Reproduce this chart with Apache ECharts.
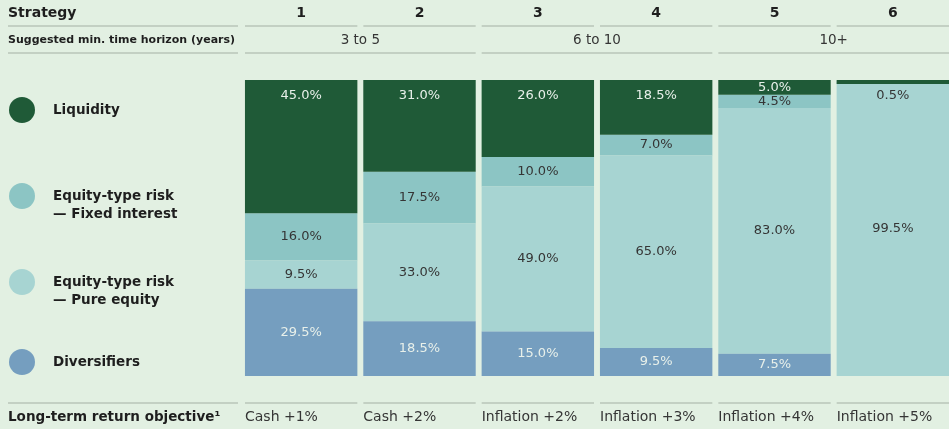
<!DOCTYPE html>
<html>
<head>
<meta charset="utf-8">
<script src="https://cdn.jsdelivr.net/npm/echarts@6/dist/echarts.min.js"></script>
<style>
  html, body { margin: 0; padding: 0; background: #e2f0e2; }
  #chart { width: 949px; height: 429px; }
</style>
</head>
<body>
<div id="chart"></div>
<script>
// strategy columns
const strategies = ['1', '2', '3', '4', '5', '6']
const horizons = ['3 to 5', '6 to 10', '10+']
const returnObjectives = ['Cash +1%', 'Cash +2%', 'Inflation +2%', 'Inflation +3%', 'Inflation +4%', 'Inflation +5%']

// allocation (%) per strategy
const liquidity = [45.0, 31.0, 26.0, 18.5, 5.0, 0.5]
const fixedInterest = [16.0, 17.5, 10.0, 7.0, 4.5, 0]
const pureEquity = [9.5, 33.0, 49.0, 65.0, 83.0, 99.5]
const diversifiers = [29.5, 18.5, 15.0, 9.5, 7.5, 0]

const legendNames = ['Liquidity', 'Equity-type risk\n— Fixed interest', 'Equity-type risk\n— Pure equity', 'Diversifiers']

const colors = {
  liquidity: '#1f5a37',
  fixed: '#8cc5c4',
  pure: '#a7d4d2',
  div: '#759ebf'
}
const lineColor = '#b9c6b9'
const textDark = '#1e1e1e'
const textReg = '#353535'
const textLight = '#e8f0ea'
const boldFont = '"DejaVu Sans"'
const regFont = '"DejaVu Sans"'

const chart = echarts.init(document.getElementById('chart'))

const pct = p => (p.value ? p.value.toFixed(1) + '%' : '')

function seriesFor(name, data, color, labelOpts, extra) {
  return Object.assign({
    name,
    type: 'bar',
    stack: 'total',
    barCategoryGap: '5%',
    data,
    itemStyle: { color },
    label: Object.assign({
      show: true,
      position: 'inside',
      formatter: pct,
      color: textReg,
      fontFamily: 'DejaVu Sans',
      fontSize: 13
    }, labelOpts)
  }, extra || {})
}

// liquidity labels sit near the top, except for the thin slices
const liquidityData = liquidity.map((v, i) => {
  if (i === 4) return { value: v, label: { position: 'inside' } }
  if (i === 5) return { value: v, label: { color: textReg } }
  return v
})

chart.setOption({
  backgroundColor: '#e2f0e2',
  animation: false,
  grid: { left: 242, width: 710, top: 80, bottom: 53, outerBoundsMode: 'none' },
  xAxis: {
    type: 'category',
    data: strategies,
    axisLine: { show: false },
    axisTick: { show: false },
    axisLabel: { show: false }
  },
  yAxis: {
    type: 'value',
    min: 0,
    max: 100,
    inverse: true,
    show: false,
    splitLine: { show: false }
  },
  series: [
    seriesFor('Liquidity', liquidityData, colors.liquidity,
      { position: 'insideTop', distance: 9, color: textLight },
      { barMinHeight: 4, z: 3 }),
    seriesFor('Equity-type risk — Fixed interest', fixedInterest, colors.fixed, {}),
    seriesFor('Equity-type risk — Pure equity', pureEquity, colors.pure, {}),
    seriesFor('Diversifiers', diversifiers, colors.div, { color: textLight })
  ]
})

// header, footer and legend drawn from the axis positions
const cx = strategies.map(s => chart.convertToPixel({ xAxisIndex: 0 }, s))
const band = cx[1] - cx[0]
const half = band / 2 - 3
const g = []

function hline(x1, x2, y) {
  g.push({ type: 'line', shape: { x1, y1: y, x2, y2: y }, style: { stroke: lineColor, lineWidth: 1.5 }, silent: true })
}
function text(str, x, y, opts) {
  g.push({
    type: 'text', x, y,
    style: Object.assign({ text: str, fill: textReg, font: '14px ' + regFont, textVerticalAlign: 'middle' }, opts)
  })
}

// row labels
text('Strategy', 8, 13, { fill: textDark, font: 'bold 14px ' + boldFont })
text('Suggested min. time horizon (years)', 8, 40, { fill: textDark, font: 'bold 11px ' + boldFont })
text('Long-term return objective\u00b9', 8, 417, { fill: textDark, font: 'bold 13.5px ' + boldFont })
hline(8, 238, 26)
hline(8, 238, 53)
hline(8, 238, 403)

strategies.forEach((s, i) => {
  text(s, cx[i], 13, { fill: textDark, font: 'bold 14px ' + boldFont, textAlign: 'center' })
  hline(cx[i] - half, cx[i] + half, 26)
  hline(cx[i] - half, cx[i] + half, 403)
  text(returnObjectives[i], cx[i] - half, 417, { textAlign: 'left' })
})

horizons.forEach((h, k) => {
  const a = cx[2 * k], b = cx[2 * k + 1]
  text(h, (a + b) / 2, 40, { textAlign: 'center', font: '13.5px ' + regFont })
  hline(a - half, b + half, 53)
})

// legend
const legendColors = [colors.liquidity, colors.fixed, colors.pure, colors.div]
const legendY = [110, 196, 282, 362]
legendNames.forEach((n, i) => {
  g.push({ type: 'circle', shape: { cx: 22, cy: legendY[i], r: 13 }, style: { fill: legendColors[i] } })
  g.push({
    type: 'text', x: 53, y: legendY[i] - 9,
    style: { text: n, fill: textDark, font: 'bold 13.5px ' + boldFont, lineHeight: 18, textVerticalAlign: 'top' }
  })
})

chart.setOption({ graphic: g })
</script>
</body>
</html>
